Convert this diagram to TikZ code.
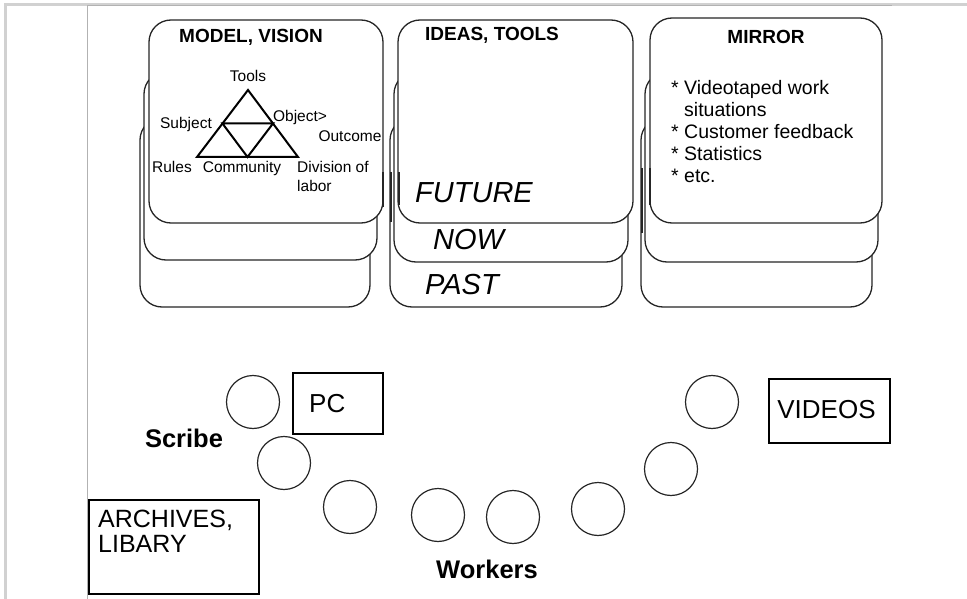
\documentclass[tikz,border=0pt]{standalone}
\usepackage{fontspec}
\setmainfont{Liberation Sans}
\usetikzlibrary{positioning}

\begin{document}
\begin{tikzpicture}[x=1pt,y=-1pt,
  card/.style={draw=black!85,line width=1.3pt,fill=white,rounded corners=22pt},
  edge/.style={draw=black!85,line width=2.6pt},
  frame/.style={draw=black!18,line width=3pt},
  innerframe/.style={draw=black!30,line width=1pt},
  title/.style={font=\fontsize{19}{22}\selectfont\bfseries,inner sep=0pt},
  tri/.style={line width=2pt},
  small/.style={font=\fontsize{15.5}{20}\selectfont,inner sep=0pt,text height=11.5pt,text depth=3.5pt},
  list/.style={font=\fontsize{19.5}{22}\selectfont,inner sep=0pt,align=left},
  time/.style={font=\fontsize{29}{32}\selectfont\itshape,inner sep=0pt},
  seat/.style={draw=black!85,circle,minimum size=53pt,inner sep=0pt,line width=1.2pt},
  box/.style={draw,line width=2pt,inner sep=0pt},
  big/.style={font=\fontsize{26}{23}\selectfont,inner sep=0pt},
  role/.style={font=\fontsize{25.5}{28}\selectfont\bfseries,inner sep=0pt}]
\useasboundingbox (0,0) rectangle (967,599);
% page edges
\draw[frame] (5,599) -- (5,5) -- (967,5);
\draw[innerframe] (87,599) -- (87,6) -- (892,6);
% model stack
\draw[card] (140,118) rectangle (370,307);
\draw[card] (144,72) rectangle (377,260);
\draw[card] (149,20) rectangle (383,223);
\draw[edge] (383,172) -- (383,207);
\node[title] (model) at (251,37) {MODEL, VISION};
\coordinate (apex) at (248,90);
\coordinate (bl) at (197,157);
\coordinate (br) at (298,157);
\coordinate (ml) at (222.5,123.5);
\coordinate (mr) at (273,123.5);
\coordinate (mb) at (247.5,157);
\draw[tri] (apex) -- (bl) -- (br) -- cycle;
\draw[tri] (ml) -- (mr) -- (mb) -- cycle;
\node[small] (tools) at (248,78) {Tools};
\node[small] (subject) at (186,125) {Subject};
\node[small] (object) at (300,118) {Object>};
\node[small] (outcome) at (350,138) {Outcome};
\node[small] (rules) at (172,168) {Rules};
\node[small] (community) at (242,168) {Community};
\node[small,anchor=west] (division) at (297,168) {Division of};
\node[small,anchor=west] (labor) at (297,188) {labor};
% ideas stack
\draw[card] (390,118) rectangle (622,307);
\draw[card] (394,72) rectangle (628,262);
\draw[card] (398,20) rectangle (633,223);
\draw[edge] (391,172) -- (391,222);
\draw[edge] (399,172) -- (399,205);
\node[title] (ideas) at (492,35) {IDEAS, TOOLS};
\node[time,anchor=west] (future) at (415,193) {FUTURE};
\node[time,anchor=west] (now) at (433,240) {NOW};
\node[time,anchor=west] (past) at (425,285) {PAST};
% mirror stack
\draw[card] (641,118) rectangle (872,307);
\draw[card] (645,72) rectangle (878,262);
\draw[card] (650,18) rectangle (882,223);
\draw[edge] (642,168) -- (642,233);
\draw[edge] (650,168) -- (650,205);
\node[title] (mirror) at (766,37) {MIRROR};
\node[list,anchor=north west] (facts) at (671,80)
  {* Videotaped work\\\hphantom{* }situations\\* Customer feedback\\* Statistics\\* etc.};
% room
\node[seat] (c1) at (253,402) {};
\node[seat] (c2) at (284,463) {};
\node[seat] (c3) at (350,507) {};
\node[seat] (c4) at (438,515) {};
\node[seat] (c5) at (513,517) {};
\node[seat] (c6) at (598,509) {};
\node[seat] (c7) at (671,469) {};
\node[seat] (c8) at (712,402) {};
\node[box,minimum width=90pt,minimum height=61pt] (pc) at (338,403.5) {};
\node[big,anchor=west] (pctext) at ([xshift=17pt]pc.west) {PC};
\node[box,minimum width=121pt,minimum height=64pt] (videos) at (829.5,411) {};
\node[big] (videotext) at (826.5,410) {VIDEOS};
\node[box,minimum width=170pt,minimum height=94pt,anchor=north west] (archives) at (88,499) {};
\node[big,font=\fontsize{25}{24.5}\selectfont,anchor=north west,align=left] (archivetext) at ([shift={(10,11)}]archives.north west) {ARCHIVES,\\LIBARY};
\node[role] (scribe) at (184,438) {Scribe};
\node[role] (workers) at (487,569) {Workers};
\end{tikzpicture}
\end{document}
